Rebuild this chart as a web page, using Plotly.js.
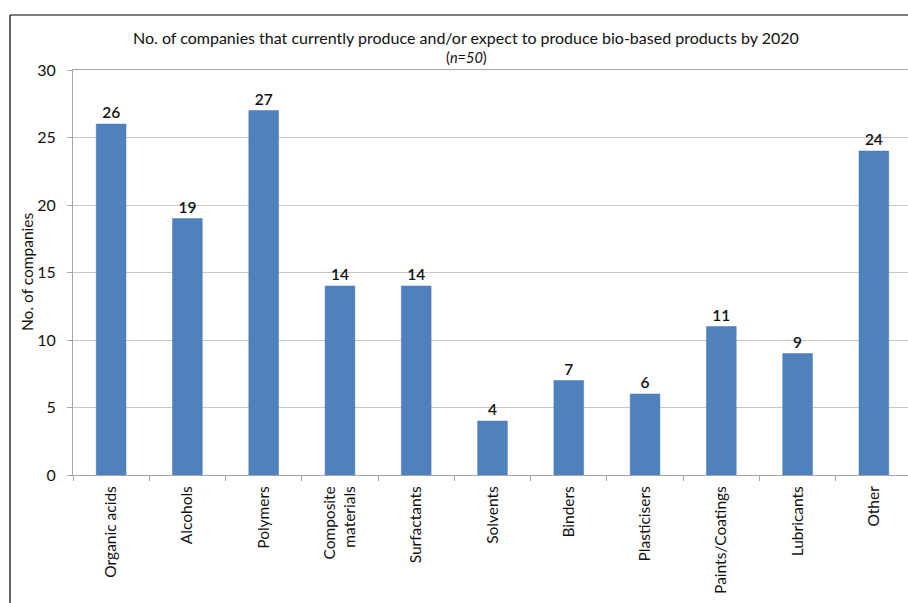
<!DOCTYPE html>
<html>
<head>
<meta charset="utf-8">
<script src="https://cdn.plot.ly/plotly-3.0.1.min.js"></script>
<style>
html,body{margin:0;padding:0;overflow:hidden;background:#fff;}
#chart{width:920px;height:603px;}
</style>
</head>
<body>
<div id="chart"></div>
<script>
const categories = ["Organic acids","Alcohols","Polymers","Composite<br>materials","Surfactants","Solvents","Binders","Plasticisers","Paints/Coatings","Lubricants","Other"];
const values = [26,19,27,14,14,4,7,6,11,9,24];
const yTicks = [0,5,10,15,20,25,30];

const FONT = "Lato, 'Open Sans', sans-serif";
const W = 920, H = 603;
const mL = 73, mR = 8, mT = 70, mB = 128;
const pw = W - mL - mR, ph = H - mT - mB;
const px = x => (x - mL) / pw;
const py = y => (H - mB - y) / ph;

const trace = {
  type: "bar",
  x: categories,
  y: values,
  marker: {color: "#4F81BD", line: {color: "#4A7AB5", width: 0.5}},
  text: values.map(String),
  textposition: "outside",
  textfont: {family: FONT, size: 15.5, color: "#111", weight: 600},
  cliponaxis: false,
  hoverinfo: "skip"
};

const layout = {
  width: W, height: H,
  margin: {l: mL, r: mR, t: mT, b: mB, pad: 0},
  paper_bgcolor: "#fff", plot_bgcolor: "#fff",
  bargap: 0.61,
  showlegend: false,
  font: {family: FONT, size: 15.5, color: "#111"},
  xaxis: {
    type: "category",
    showline: true, linecolor: "#a6a6a6", linewidth: 1,
    mirror: true,
    ticks: "outside", ticklen: 5, tickcolor: "#a6a6a6", tickson: "boundaries",
    tickangle: -90,
    tickfont: {family: FONT, size: 15.5, color: "#111"},
    ticklabelstandoff: 4,
    showgrid: false, zeroline: false,
    fixedrange: true
  },
  yaxis: {
    range: [0, 30],
    tickvals: yTicks,
    ticktext: yTicks.map(String),
    ticks: "outside", ticklen: 5, tickcolor: "#a6a6a6",
    showline: true, linecolor: "#a6a6a6", linewidth: 1,
    showgrid: true, gridcolor: "#c8c8c8", gridwidth: 1,
    zeroline: false,
    tickfont: {family: FONT, size: 16, color: "#111"},
    ticklabelstandoff: 8,
    fixedrange: true
  },
  annotations: [
    {xref: "paper", yref: "paper", x: px(466), y: py(38), xanchor: "center", yanchor: "middle",
     text: "No. of companies that currently produce and/or expect to produce bio-based products by 2020",
     showarrow: false, font: {family: FONT, size: 16, color: "#111"}},
    {xref: "paper", yref: "paper", x: px(466), y: py(58), xanchor: "center", yanchor: "middle",
     text: "(<i>n=50</i>)", showarrow: false, font: {family: FONT, size: 14.5, color: "#111"}},
    {xref: "paper", yref: "paper", x: px(27), y: py(272), xanchor: "center", yanchor: "middle",
     text: "No. of companies", textangle: -90, showarrow: false,
     font: {family: FONT, size: 15.5, color: "#111"}}
  ],
  shapes: [
    {type: "line", xref: "paper", yref: "paper", x0: px(10), x1: px(10), y0: py(15), y1: py(610),
     line: {color: "#000", width: 1.2}},
    {type: "line", xref: "paper", yref: "paper", x0: px(10), x1: px(930), y0: py(15), y1: py(15),
     line: {color: "#000", width: 1.2}}
  ]
};

Plotly.newPlot("chart", [trace], layout, {displayModeBar: false, staticPlot: true});
</script>
</body>
</html>
